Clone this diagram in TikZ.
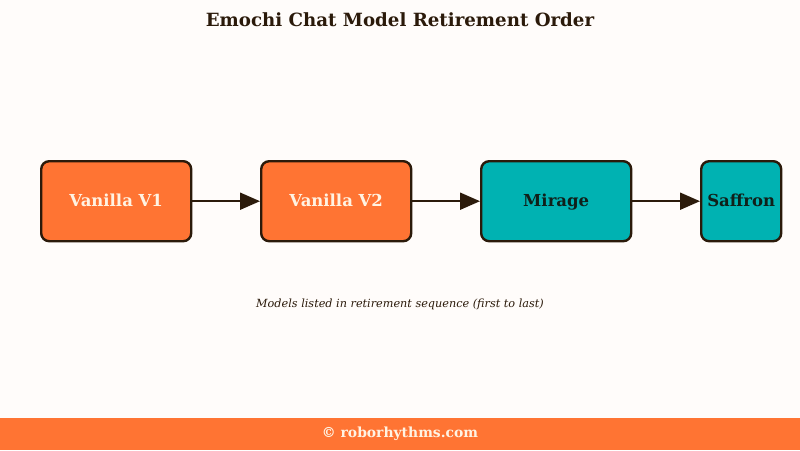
\documentclass[tikz,border=0pt]{standalone}
\usepackage{fontspec}
\setmainfont{DejaVu Serif}
\usetikzlibrary{arrows.meta}
\definecolor{bg}{HTML}{FFFCFA}
\definecolor{ink}{HTML}{2B1A0A}
\definecolor{orng}{HTML}{FF7433}
\definecolor{teal2}{HTML}{00B2B2}
\definecolor{cream}{HTML}{FFF3E3}
\definecolor{tealtext}{HTML}{10201A}
\tikzset{
  box/.style={draw=ink, line width=2.4pt, rounded corners=8pt, inner sep=0pt, anchor=north west},
  obox/.style={box, fill=orng, text=cream},
  tbox/.style={box, fill=teal2, text=tealtext},
  conn/.style={draw=ink, line width=2pt, -{Triangle[length=20pt,width=17pt]}},
  lbl/.style={font=\fontsize{16.5}{19}\selectfont\bfseries, anchor=base, inner sep=0pt}
}
\begin{document}
\begin{tikzpicture}[x=1pt,y=-1pt]
\fill[bg] (0,0) rectangle (800,450);
\useasboundingbox (0,0) rectangle (800,450);
\node[text=ink, font=\fontsize{18.2}{22}\selectfont\bfseries] (title) at (400,20) {Emochi Chat Model Retirement Order};
\node[obox, minimum width=150pt, minimum height=80pt] (v1) at (40,160) {};
\node[lbl, text=cream] (t1) at ([yshift=-5pt]v1.center) {Vanilla V1};
\node[obox, minimum width=150pt, minimum height=80pt] (v2) at (260,160) {};
\node[lbl, text=cream] (t2) at ([yshift=-5pt]v2.center) {Vanilla V2};
\node[tbox, minimum width=150pt, minimum height=80pt] (mi) at (480,160) {};
\node[lbl, text=tealtext] (t3) at ([yshift=-5pt]mi.center) {Mirage};
\node[tbox, minimum width=80pt, minimum height=80pt] (sa) at (700,160) {};
\node[lbl, text=tealtext] (t4) at ([yshift=-5pt]sa.center) {Saffron};
\draw[conn] (v1.east) -- (v2.west);
\draw[conn] (v2.east) -- (mi.west);
\draw[conn] (mi.east) -- (sa.west);
\node[text=ink, font=\fontsize{11.25}{14}\selectfont\itshape] (cap) at (400,304) {Models listed in retirement sequence (first to last)};
\fill[orng] (0,418) rectangle (800,450);
\node[text=cream, font=\fontsize{13.9}{16}\selectfont\bfseries] (foot) at (400,434) {© roborhythms.com};
\end{tikzpicture}
\end{document}
